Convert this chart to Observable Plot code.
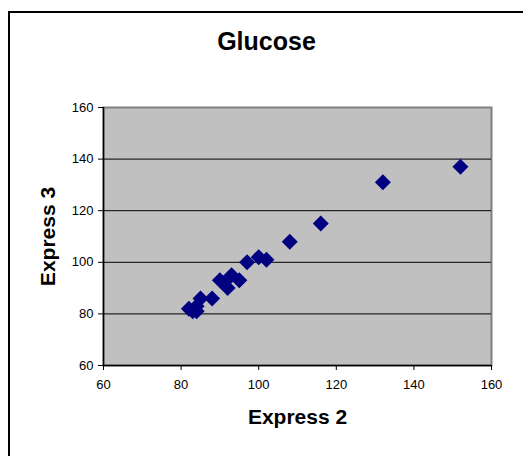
<!DOCTYPE html>
<html>
<head>
<meta charset="utf-8">
<script src="https://cdn.jsdelivr.net/npm/d3@7"></script>
<script src="https://cdn.jsdelivr.net/npm/@observablehq/plot@0.6"></script>
<style>
  html, body { margin: 0; padding: 0; background: #fff; }
  #wrap { position: relative; width: 523px; height: 456px; overflow: hidden; }
  #border { position: absolute; left: 8px; top: 11px; width: 530px; height: 460px; border-left: 2px solid #000; border-top: 2px solid #000; box-sizing: border-box; pointer-events: none; }
  #chart { position: absolute; left: 0; top: 0; }
</style>
</head>
<body>
<div id="wrap"><div id="chart"></div><div id="border"></div></div>
<script>
const title = "Glucose";
const xLabel = "Express 2";
const yLabel = "Express 3";
const express2 = [82, 83, 84, 84, 85, 88, 90, 91, 92, 93, 95, 97, 100, 102, 108, 116, 132, 152];
const express3 = [82, 81, 81, 83, 86, 86, 93, 92, 90, 95, 93, 100, 102, 101, 108, 115, 131, 137];
const xTicks = [60, 80, 100, 120, 140, 160];
const yTicks = [60, 80, 100, 120, 140, 160];
const yGridLines = [80, 100, 120, 140];

const data = express2.map((x, i) => ({x, y: express3[i]}));
const font = "'Liberation Sans', Arial, sans-serif";

const chart = Plot.plot({
  width: 523,
  height: 456,
  marginLeft: 103,
  marginRight: 32,
  marginTop: 107,
  marginBottom: 91,
  style: {fontFamily: font, fontSize: "13px", background: "transparent", color: "#000"},
  x: {domain: [60, 160]},
  y: {domain: [60, 160]},
  marks: [
    Plot.frame({fill: "#c0c0c0", stroke: "#808080", strokeWidth: 2}),
    Plot.gridY(yGridLines, {stroke: "#000", strokeOpacity: 1, strokeWidth: 1}),
    Plot.axisX(xTicks, {tickSize: 5, tickPadding: 9, label: null, fontSize: 13, stroke: "#000"}),
    Plot.axisY(yTicks, {tickSize: 5, tickPadding: 5, label: null, fontSize: 13, stroke: "#000"}),
    Plot.ruleX([60], {stroke: "#000", strokeWidth: 1.5}),
    Plot.ruleY([60], {stroke: "#000", strokeWidth: 1.5}),
    Plot.dot(data, {x: "x", y: "y", symbol: "diamond2", r: 7.2, fill: "#000080", stroke: "none"}),
    Plot.text([title], {frameAnchor: "top", lineAnchor: "middle", textAnchor: "middle", dx: -31, dy: -66, fontSize: 25, fontWeight: "bold", fill: "#000"}),
    Plot.text([xLabel], {frameAnchor: "bottom", lineAnchor: "middle", textAnchor: "middle", dy: 52, fontSize: 21, fontWeight: "bold", fill: "#000"}),
    Plot.text([yLabel], {frameAnchor: "left", lineAnchor: "middle", textAnchor: "middle", dx: -55, rotate: -90, fontSize: 21, fontWeight: "bold", fill: "#000"})
  ]
});
document.getElementById("chart").appendChild(chart);
</script>
</body>
</html>
